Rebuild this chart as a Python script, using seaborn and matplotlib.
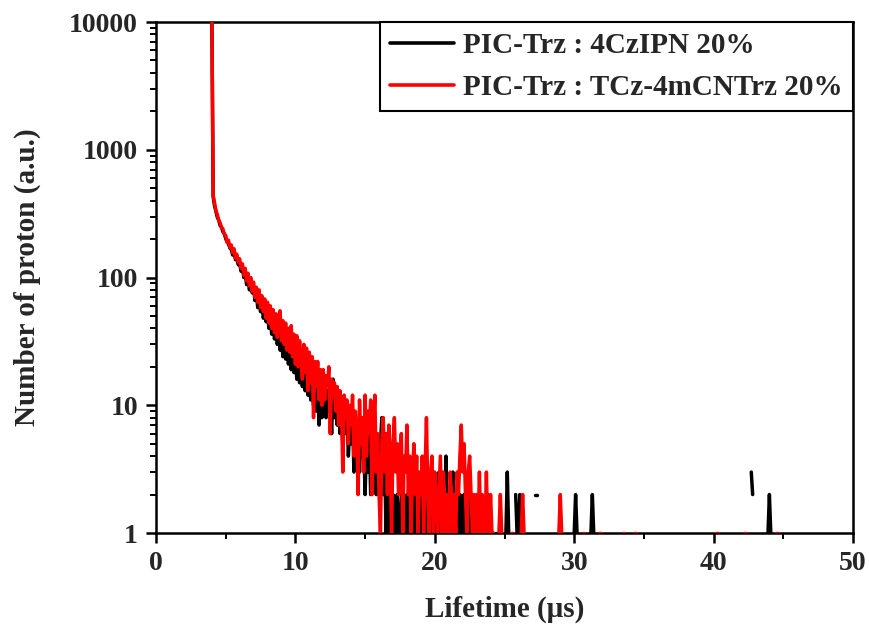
import numpy as np
import pandas as pd
import matplotlib
matplotlib.use("Agg")
import matplotlib.pyplot as plt
import seaborn as sns

# time channels (us), 0.1 us bins
T_START = 4.0
T_STEP = 0.1
T_END = 45.0

labels = ["PIC-Trz : 4CzIPN 20%", "PIC-Trz : TCz-4mCNTrz 20%"]
colors = ["black", "red"]

# photon counts from 4.0 to 24.0 us, one row per microsecond
black_counts = [
    14000, 430, 365, 330, 296, 282, 255, 248, 228, 220,
    202, 190, 184, 170, 166, 150, 158, 138, 142, 126,
    130, 112, 118, 100, 108, 88, 99, 80, 90, 76,
    82, 66, 76, 58, 70, 54, 64, 48, 58, 45,
    52, 40, 48, 36, 45, 33, 42, 30, 39, 27,
    36, 24, 33, 23, 31, 21, 28, 19, 27, 18,
    25, 16, 23, 15, 22, 14, 20, 13, 19, 12,
    18, 11, 17, 10, 15, 9, 14, 7, 13, 8,
    9, 12, 8, 13, 9, 11, 6, 16, 8, 10,
    7, 9, 6, 9, 5, 8, 6, 9, 4, 7,
    5, 8, 3, 6, 4, 7, 3, 6, 4, 5,
    2, 5, 3, 6, 2, 4, 3, 5, 2, 4,
    3, 5, 8, 2, 4, 1, 3, 1, 2, 1,
    2, 1, 1, 2, 1, 1, 2, 3, 1, 1,
    2, 1, 1, 2, 1, 2, 1, 3, 1, 2,
    1, 2, 1, 1, 2, 1, 3, 1, 2, 1,
    1, 2, 1, 3, 1, 1, 2, 1, 4, 1,
    2, 1, 1, 3, 1, 2, 1, 1, 2, 1,
    1, 2, 1, 1, 2, 1, 1, 2, 1, 1,
    0, 1, 2, 1, 0, 1, 1, 0, 2, 1,
    0,
]
red_counts = [
    16000, 440, 385, 335, 310, 280, 268, 246, 240, 218,
    214, 188, 196, 172, 180, 156, 168, 142, 152, 132,
    140, 118, 128, 104, 118, 94, 108, 86, 100, 78,
    92, 70, 84, 64, 80, 58, 72, 54, 68, 48,
    64, 44, 60, 40, 56, 37, 52, 34, 49, 55,
    32, 46, 30, 44, 27, 40, 26, 42, 24, 36,
    21, 35, 20, 32, 24, 16, 30, 18, 28, 13,
    26, 15, 24, 8, 22, 14, 22, 11, 19, 10,
    19, 11, 17, 14, 20, 6, 16, 12, 15, 9,
    14, 7, 13, 10, 3, 12, 8, 11, 5, 10,
    7, 12, 4, 9, 6, 2, 11, 5, 8, 3,
    12, 4, 9, 6, 11, 2, 7, 12, 3, 6,
    2, 1, 5, 8, 3, 6, 2, 7, 4, 1,
    5, 8, 3, 5, 2, 4, 6, 1, 4, 3,
    7, 2, 4, 1, 3, 5, 2, 4, 1, 3,
    2, 4, 1, 3, 8, 2, 1, 3, 4, 1,
    3, 2, 1, 2, 4, 1, 3, 2, 1, 2,
    1, 3, 2, 1, 2, 1, 3, 2, 4, 7,
    3, 5, 2, 1, 3, 4, 2, 1, 2, 1,
    2, 1, 3, 1, 2, 1, 1, 3, 1, 1,
    2,
]

# sparse tail after 24 us: only the non-empty bins
black_tail_t = [24.4, 24.5, 25.1, 25.2, 25.3, 25.8, 25.9, 26.0, 26.1, 26.2,
                27.2, 27.3, 30.0, 30.1, 30.2, 31.2, 31.3, 31.4, 42.7, 42.8,
                43.9, 44.0, 44.1]
black_tail_n = [1, 1, 1, 3, 1, 2, 1, 1, 2, 1,
                2, 2, 1, 2, 1, 1, 2, 1, 3, 2,
                1, 2, 1]
red_tail_t = [24.1, 24.2, 24.6, 24.7, 24.8, 25.5, 25.6, 26.2, 26.3, 26.4,
              28.9, 29.0, 29.1, 30.6, 30.7, 31.8, 31.9, 33.5, 33.6, 34.3,
              34.4, 40.2, 40.3, 42.2, 42.3, 44.5, 44.6]
red_tail_n = [1, 1, 1, 2, 1, 1, 1, 1, 2, 1,
              1, 2, 1, 1, 1, 1, 1, 1, 1, 1,
              1, 1, 1, 1, 1, 1, 1]


def build_frame(label, counts, tail_t, tail_n):
    t = np.round(np.arange(T_START, T_END + T_STEP / 2, T_STEP), 1)
    n = np.zeros(len(t))
    n[:len(counts)] = counts
    for tt, nn in zip(tail_t, tail_n):
        n[int(round((tt - T_START) / T_STEP))] = nn
    # empty bins are not drawn on the log axis -> break the trace there
    empty = n == 0
    seg = np.cumsum(empty)
    df = pd.DataFrame({"t": t, "n": n, "seg": seg, "sample": label})
    return df[~empty]


df = pd.concat([
    build_frame(labels[0], black_counts, black_tail_t, black_tail_n),
    build_frame(labels[1], red_counts, red_tail_t, red_tail_n),
], ignore_index=True)

sns.set_theme(style="ticks")
plt.rcParams["font.family"] = ["Liberation Serif", "DejaVu Serif"]
plt.rcParams["font.weight"] = "bold"
plt.rcParams["axes.labelweight"] = "bold"

fig = plt.figure(figsize=(8.7, 6.29), dpi=100)
ax = fig.add_axes([0.1793, 0.1526, 0.8012, 0.8124])

sns.lineplot(data=df, x="t", y="n", hue="sample", units="seg", estimator=None,
             palette=dict(zip(labels, colors)), hue_order=labels,
             linewidth=2.5, sort=False, ax=ax, zorder=3)

ax.set_yscale("log")
ax.set_xlim(0, 50)
ax.set_ylim(1, 10000)
ax.set_xticks([0, 10, 20, 30, 40, 50])
ax.set_xticks([5, 15, 25, 35, 45], minor=True)
ax.set_yticks([1, 10, 100, 1000, 10000])
ax.set_yticklabels(["1", "10", "100", "1000", "10000"])

for s in ax.spines.values():
    s.set_visible(True)
    s.set_linewidth(1.8)
    s.set_color("black")

ax.tick_params(which="major", direction="out", length=7, width=1.8,
               labelsize=20, color="black", pad=6)
ax.tick_params(which="minor", direction="out", length=4, width=1.4, color="black")
ax.tick_params(top=False, right=False, which="both")
for lab in ax.get_xticklabels() + ax.get_yticklabels():
    lab.set_fontweight("bold")

ax.set_xlabel("Lifetime (μs)", fontsize=21, labelpad=14)
ax.set_ylabel("Number of proton (a.u.)", fontsize=21, labelpad=20)

handles, _ = ax.get_legend_handles_labels()
leg = ax.legend(handles, labels, loc="upper right", borderaxespad=0,
                frameon=True, fancybox=False, framealpha=1,
                edgecolor="black", handlelength=2.2,
                handletextpad=0.3, labelspacing=0.5, borderpad=0.35,
                prop={"weight": "bold", "size": 21})
leg.get_frame().set_linewidth(1.5)
for line in leg.get_lines():
    line.set_linewidth(2.6)

fig.savefig("out.png", dpi=100)
